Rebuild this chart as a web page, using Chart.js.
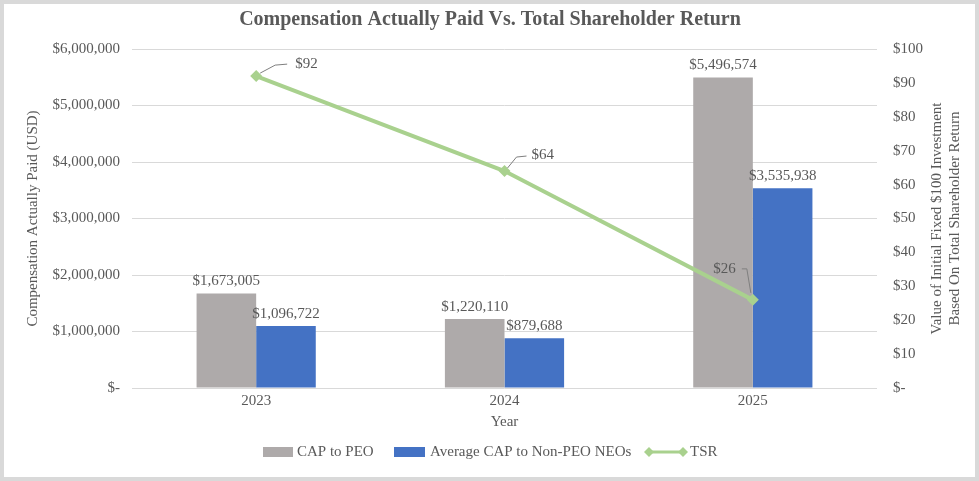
<!DOCTYPE html>
<html>
<head>
<meta charset="utf-8">
<script src="https://cdn.jsdelivr.net/npm/chart.js@4.4.1/dist/chart.umd.min.js"></script>
<style>
  html, body { margin: 0; padding: 0; background: #ffffff; }
  #wrap { width: 979px; height: 481px; position: relative; }
</style>
</head>
<body>
<div id="wrap"><canvas id="c" width="979" height="481"></canvas></div>
<script>
// ---- Data ----
const categories = ["2023", "2024", "2025"];
const capToPeo = [1673005, 1220110, 5496574];
const avgCapNonPeo = [1096722, 879688, 3535938];
const tsr = [92, 64, 26];
const leftTicks = [0, 1000000, 2000000, 3000000, 4000000, 5000000, 6000000];
const rightTicks = [0, 10, 20, 30, 40, 50, 60, 70, 80, 90, 100];
const seriesNames = ["CAP to PEO", "Average CAP to Non-PEO NEOs", "TSR"];
const titleText = "Compensation Actually Paid Vs. Total Shareholder Return";
const leftAxisTitle = "Compensation Actually Paid (USD)";
const rightAxisTitle = ["Value of Initial Fixed $100 Investment", "Based On Total Shareholder Return"];
const xAxisTitle = "Year";

const FONT = "'Liberation Serif', 'Times New Roman', serif";
const TXT = "#595959";
const GRAY = "#aeaaaa";
const BLUE = "#4472c4";
const GREEN = "#a9d18e";

function money(v) {
  if (v === 0) return "$-";
  return "$" + v.toLocaleString("en-US");
}

const drawPlugin = {
  id: "custom",
  beforeDraw(chart) {
    const ctx = chart.ctx;
    ctx.save();
    ctx.fillStyle = "#ffffff";
    ctx.fillRect(0, 0, chart.width, chart.height);
    ctx.restore();
  },
  afterDraw(chart) {
    const ctx = chart.ctx;
    const ca = chart.chartArea;
    ctx.save();
    // frame
    ctx.strokeStyle = "#d9d9d9";
    ctx.lineWidth = 4;
    ctx.strokeRect(2, 2, chart.width - 4, chart.height - 4);

    // title
    ctx.fillStyle = TXT;
    ctx.font = "bold 20px " + FONT;
    ctx.textAlign = "center";
    ctx.textBaseline = "middle";
    ctx.fillText(titleText, 490, 20);

    // left axis title
    ctx.font = "15px " + FONT;
    ctx.save();
    ctx.translate(33, (ca.top + ca.bottom) / 2);
    ctx.rotate(-Math.PI / 2);
    ctx.fillText(leftAxisTitle, 0, 0);
    ctx.restore();

    // right axis title
    ctx.save();
    ctx.translate(946, (ca.top + ca.bottom) / 2);
    ctx.rotate(-Math.PI / 2);
    ctx.fillText(rightAxisTitle[0], 0, -9);
    ctx.fillText(rightAxisTitle[1], 0, 9);
    ctx.restore();

    // x axis title
    ctx.fillText(xAxisTitle, (ca.left + ca.right) / 2, 422);

    // bar labels
    ctx.font = "15px " + FONT;
    [0, 1].forEach(di => {
      const meta = chart.getDatasetMeta(di);
      meta.data.forEach((bar, i) => {
        const v = chart.data.datasets[di].data[i];
        ctx.textAlign = "center";
        ctx.fillText(money(v), bar.x, bar.y - 12);
      });
    });

    // TSR labels with leader lines
    const lm = chart.getDatasetMeta(2);
    const specs = [
      { tx: 39, ty: -12, align: "left", line: [[4, -3], [19, -11], [31, -12]] },
      { tx: 27, ty: -16, align: "left", line: [[3, -3], [12, -14], [22, -15]] },
      { tx: -17, ty: -31, align: "right", line: [[-11, -31], [-6, -31], [-2, -7]] }
    ];
    lm.data.forEach((pt, i) => {
      const s = specs[i];
      ctx.strokeStyle = "#7f7f7f";
      ctx.lineWidth = 1;
      ctx.beginPath();
      s.line.forEach((p, k) => {
        if (k === 0) ctx.moveTo(pt.x + p[0], pt.y + p[1]);
        else ctx.lineTo(pt.x + p[0], pt.y + p[1]);
      });
      ctx.stroke();
      ctx.textAlign = s.align;
      ctx.fillStyle = TXT;
      ctx.fillText("$" + tsr[i], pt.x + s.tx, pt.y + s.ty);
    });

    // legend
    const ly = 452;
    ctx.font = "15px " + FONT;
    ctx.textAlign = "left";
    ctx.fillStyle = GRAY;
    ctx.fillRect(263, ly - 5, 30, 10);
    ctx.fillStyle = TXT;
    ctx.fillText(seriesNames[0], 297, ly);
    ctx.fillStyle = BLUE;
    ctx.fillRect(394, ly - 5, 31, 10);
    ctx.fillStyle = TXT;
    ctx.fillText(seriesNames[1], 430, ly);
    ctx.strokeStyle = GREEN;
    ctx.lineWidth = 3;
    ctx.beginPath();
    ctx.moveTo(649, ly);
    ctx.lineTo(683, ly);
    ctx.stroke();
    ctx.fillStyle = GREEN;
    [649, 683].forEach(x => {
      ctx.beginPath();
      ctx.moveTo(x, ly - 5);
      ctx.lineTo(x + 5, ly);
      ctx.lineTo(x, ly + 5);
      ctx.lineTo(x - 5, ly);
      ctx.closePath();
      ctx.fill();
    });
    ctx.fillStyle = TXT;
    ctx.fillText(seriesNames[2], 690, ly);
    ctx.restore();
  }
};

new Chart(document.getElementById("c"), {
  data: {
    labels: categories,
    datasets: [
      {
        type: "bar", label: seriesNames[0], data: capToPeo, backgroundColor: GRAY,
        yAxisID: "y", categoryPercentage: 0.48, barPercentage: 1.0, order: 2
      },
      {
        type: "bar", label: seriesNames[1], data: avgCapNonPeo, backgroundColor: BLUE,
        yAxisID: "y", categoryPercentage: 0.48, barPercentage: 1.0, order: 2
      },
      {
        type: "line", label: seriesNames[2], data: tsr, borderColor: GREEN, backgroundColor: GREEN,
        borderWidth: 4, pointStyle: "rectRot", pointRadius: 6, pointBorderWidth: 0,
        yAxisID: "y1", order: 1, tension: 0
      }
    ]
  },
  options: {
    responsive: false,
    animation: false,
    events: [],
    layout: { padding: { top: 49, left: 0, right: 0, bottom: 0 } },
    plugins: { legend: { display: false }, title: { display: false }, tooltip: { enabled: false } },
    scales: {
      x: {
        grid: { display: false, drawTicks: false },
        border: { display: false },
        ticks: { color: TXT, font: { family: FONT, size: 15 }, padding: 4 },
        afterFit(s) { s.height = 93; }
      },
      y: {
        position: "left", min: 0, max: 6000000,
        afterBuildTicks(s) { s.ticks = leftTicks.map(v => ({ value: v })); },
        grid: { color: "#d9d9d9", drawTicks: false, lineWidth: 1 },
        border: { display: false },
        ticks: { color: TXT, font: { family: FONT, size: 15 }, padding: 12, callback: v => money(v) },
        afterFit(s) { s.width = 132; }
      },
      y1: {
        position: "right", min: 0, max: 100,
        afterBuildTicks(s) { s.ticks = rightTicks.map(v => ({ value: v })); },
        grid: { display: false, drawTicks: false },
        border: { display: false },
        ticks: { color: TXT, font: { family: FONT, size: 15 }, padding: 16, callback: v => money(v) },
        afterFit(s) { s.width = 102; }
      }
    }
  },
  plugins: [drawPlugin]
});
</script>
</body>
</html>
